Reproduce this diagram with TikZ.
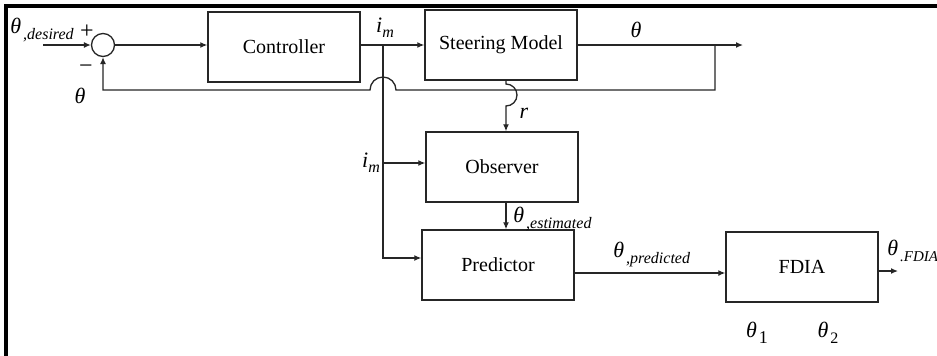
\documentclass[tikz,border=0pt]{standalone}
\usepackage{fontspec}
\setmainfont{Liberation Serif}
\usetikzlibrary{arrows.meta}
\newcommand{\subf}{\fontsize{8}{9}\selectfont\itshape}
\newcommand{\thf}{\fontsize{11}{12}\selectfont\itshape}
\begin{document}
\begin{tikzpicture}[x=0.5pt,y=-0.5pt,
  blk/.style={draw=black!85,line width=0.7pt,minimum width=76pt,minimum height=35pt,inner sep=0pt,font=\fontsize{10}{12}\selectfont},
  ln/.style={draw=black!85,line width=0.65pt},
  arr/.style={ln,-{Latex[length=3.5pt,width=3pt]}},
  lbl/.style={inner sep=0pt}]
\useasboundingbox (0,0) rectangle (937,355);
\fill[white] (0,0) rectangle (937,355);
\draw[line width=1.6pt] (6,360) -- (6,6) -- (940,6);
% blocks
\node[circle,ln,minimum size=11.5pt,inner sep=0pt] (sum) at (103,45) {};
\node[blk] (ctrl) at (284,47) {Controller};
\node[blk] (steer) at (501,45) {Steering Model};
\node[blk] (obs) at (502,167) {Observer};
\node[blk] (pred) at (498,265) {Predictor};
\node[blk] (fdia) at (802,267) {FDIA};
% coordinates
\coordinate (in) at (43,45);
\coordinate (bm) at (383,45);
\coordinate (out) at (743,45);
\coordinate (fb) at (715,45);
\coordinate (fbc) at (715,90);
\coordinate (hopR) at (396,90);
\coordinate (fbl) at (103,90);
\coordinate (pc) at (383,258);
\coordinate (oc) at (383,163);
\coordinate (rx) at (506,84);
\coordinate (pf) at (600,273);
\coordinate (fdo) at (898,271);
% connectors
\draw[arr] (in) -- (sum.west);
\draw[arr] (sum.east) -- (sum.east -| ctrl.west);
\draw[arr] (ctrl.east |- bm) -- (bm -| steer.west);
\draw[arr] (steer.east |- bm) -- (out);
\draw[arr] (fb) -- (fbc) -- (hopR) arc[start angle=0,end angle=180,radius=6.5pt] -- (fbl) -- (sum.south);
\draw[arr] (bm) -- (pc) -- (pc -| pred.west);
\draw[arr] (oc) -- (oc -| obs.west);
\draw[arr] (rx |- steer.south) -- (rx) arc[start angle=90,end angle=-90,radius=5.5pt] -- (rx |- obs.north);
\draw[arr] (rx |- obs.south) -- (rx |- pred.north);
\draw[arr] (pf -| pred.east) -- (pf -| fdia.west);
\draw[arr] (fdo -| fdia.east) -- (fdo);
% labels
\node[lbl,anchor=base west] (ld) at (10,33) {\thf θ\hspace{1pt}\raisebox{-3pt}{\subf ,desired}};
\node[lbl] (lp) at (87,32) {\fontsize{12}{13}\selectfont +};
\node[lbl] (lm) at (86,69) {\fontsize{12}{13}\selectfont −};
\node[lbl] (lt) at (80,96) {\thf θ};
\node[lbl] (im1) at (385,28) {\fontsize{11}{12}\selectfont\itshape i\raisebox{-2.5pt}{\fontsize{8}{9}\selectfont m}};
\node[lbl] (im2) at (371,163) {\fontsize{11}{12}\selectfont\itshape i\raisebox{-2.5pt}{\fontsize{8}{9}\selectfont m}};
\node[lbl] (lr) at (524,113) {\thf r};
\node[lbl] (lto) at (636,30) {\thf θ};
\node[lbl,anchor=base west] (le) at (513,222) {\thf θ\hspace{1pt}\raisebox{-3pt}{\subf ,estimated}};
\node[lbl,anchor=base west] (lpr) at (613,257) {\thf θ\hspace{1pt}\raisebox{-3pt}{\subf ,predicted}};
\node[lbl,anchor=base west] (lf) at (887,255) {\thf θ\hspace{1pt}\raisebox{-3pt}{\fontsize{7.5}{9}\selectfont\itshape .FDIA}};
\node[lbl] (t1) at (757,333) {\thf θ\hspace{1pt}\raisebox{-3pt}{\fontsize{9}{10}\selectfont\upshape 1}};
\node[lbl] (t2) at (828,333) {\thf θ\hspace{1pt}\raisebox{-3pt}{\fontsize{8}{10}\selectfont\upshape 2}};
\end{tikzpicture}
\end{document}
